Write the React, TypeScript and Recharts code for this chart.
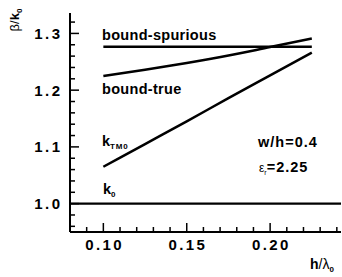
import React from 'react';
import { LineChart, Line, XAxis, YAxis } from 'recharts';

// values
const hOverLambda = [0.10, 0.125, 0.15, 0.175, 0.20, 0.225];
const boundTrue = [1.225, 1.236, 1.248, 1.261, 1.276, 1.291];
const kTM0 = [1.065, 1.105, 1.145, 1.186, 1.226, 1.266];
const spuriousX = [0.10, 0.225];
const boundSpurious = [1.2765, 1.2765];
const k0X = [0.08, 0.2425];
const k0 = [1.0, 1.0];

const xMajor = [0.10, 0.15, 0.20];
const xTicks = [0.09, 0.10, 0.11, 0.12, 0.13, 0.14, 0.15, 0.16, 0.17, 0.18, 0.19, 0.20, 0.21, 0.22, 0.23, 0.24];
const yMajor = [1.0, 1.1, 1.2, 1.3];
const yTicks = [0.96, 0.98, 1.0, 1.02, 1.04, 1.06, 1.08, 1.1, 1.12, 1.14, 1.16, 1.18, 1.2, 1.22, 1.24, 1.26, 1.28, 1.3, 1.32];

const xDomain = [0.08, 0.2425];
const yDomain = [0.95, 1.336];

const FONT = '"Liberation Sans", Arial, Helvetica, sans-serif';

const toRows = (xs: number[], ys: number[]) => xs.map((x, i) => ({ x, y: ys[i] }));

const trueRows = toRows(hOverLambda, boundTrue);
const tmRows = toRows(hOverLambda, kTM0);
const spuriousRows = toRows(spuriousX, boundSpurious);
const k0Rows = toRows(k0X, k0);

const isMajor = (v: number, majors: number[]) => majors.some((m) => Math.abs(m - v) < 1e-6);

const MAJOR = 9;
const MINOR = 5;

const BottomTick = (props: any) => {
  const { x, y, payload } = props;
  const major = isMajor(payload.value, xMajor);
  return (
    <g>
      <line x1={x} x2={x} y1={y} y2={y - (major ? MAJOR : MINOR)} stroke="#000" strokeWidth={1.5} />
      {major && (
        <text x={x} y={y + 18} dx={1.2} textAnchor="middle" fontFamily={FONT} fontWeight="bold" fontSize={15} letterSpacing={2.4} fill="#000">
          {payload.value.toFixed(2)}
        </text>
      )}
    </g>
  );
};

const TopTick = (props: any) => {
  const { x, y, payload } = props;
  const major = isMajor(payload.value, xMajor);
  return <line x1={x} x2={x} y1={y} y2={y + (major ? MAJOR : MINOR)} stroke="#000" strokeWidth={1.5} />;
};

const LeftTick = (props: any) => {
  const { x, y, payload } = props;
  const major = isMajor(payload.value, yMajor);
  return (
    <g>
      <line x1={x} x2={x + (major ? MAJOR : MINOR)} y1={y} y2={y} stroke="#000" strokeWidth={1.5} />
      {major && (
        <text x={x - 10} y={y + 5.5} dx={2.4} textAnchor="end" fontFamily={FONT} fontWeight="bold" fontSize={15} letterSpacing={2.4} fill="#000">
          {payload.value.toFixed(1)}
        </text>
      )}
    </g>
  );
};

const RightTick = (props: any) => {
  const { x, y, payload } = props;
  const major = isMajor(payload.value, yMajor);
  return <line x1={x} x2={x - (major ? MAJOR : MINOR)} y1={y} y2={y} stroke="#000" strokeWidth={1.5} />;
};

const axisLine = { stroke: '#000', strokeWidth: 2 };

const Annotations = () => (
  <svg width={342} height={277} style={{ position: 'absolute', left: 0, top: 0, pointerEvents: 'none' }}>
    <g fontFamily={FONT} fill="#000">
      {/* y axis title */}
      <text transform="translate(18.5,20) rotate(-90)" textAnchor="middle" fontSize={13}>
        <tspan>β/</tspan>
        <tspan fontWeight="bold">k</tspan>
        <tspan fontWeight="bold" fontSize={8} dy={3}>0</tspan>
      </text>
      {/* x axis title */}
      <text x={310} y={269} fontSize={14}>
        <tspan fontWeight="bold">h</tspan>
        <tspan>/λ</tspan>
        <tspan fontWeight="bold" fontSize={8} dy={3}>0</tspan>
      </text>

      <text x={102} y={40} fontSize={14.5} fontWeight="bold" letterSpacing={0.3}>bound-spurious</text>
      <text x={102} y={94} fontSize={14.5} fontWeight="bold" letterSpacing={0.3}>bound-true</text>

      <text x={102} y={146} fontSize={14.5} fontWeight="bold">
        k<tspan fontSize={8} dy={3} letterSpacing={0.8}>TM0</tspan>
      </text>
      <text x={103} y={194} fontSize={14.5} fontWeight="bold">
        k<tspan fontSize={8} dy={3}>0</tspan>
      </text>

      <text x={258} y={147} fontSize={14.5} fontWeight="bold" letterSpacing={1}>w/h=0.4</text>
      <text x={259} y={172} fontSize={14.5}>
        <tspan fontSize={12}>ε</tspan>
        <tspan fontSize={7} dy={3}>r</tspan>
        <tspan fontWeight="bold" dy={-3} letterSpacing={1}>=2.25</tspan>
      </text>
    </g>
  </svg>
);

export default function App() {
  return (
    <div style={{ position: 'absolute', left: 0, top: 0, width: 342, height: 277, background: '#fff' }}>
      <LineChart width={342} height={277} margin={{ top: 13, right: 1, bottom: 0, left: 0 }}>
        <XAxis
          xAxisId="b"
          type="number"
          dataKey="x"
          domain={xDomain}
          allowDataOverflow
          ticks={xTicks}
          interval={0}
          tick={<BottomTick />}
          tickLine={false}
          tickSize={0}
          tickMargin={0}
          axisLine={axisLine}
          height={45}
        />
        <XAxis
          xAxisId="t"
          orientation="top"
          type="number"
          dataKey="x"
          domain={xDomain}
          allowDataOverflow
          ticks={xTicks}
          interval={0}
          tick={<TopTick />}
          tickLine={false}
          tickSize={0}
          tickMargin={0}
          axisLine={axisLine}
          height={0}
        />
        <YAxis
          yAxisId="l"
          type="number"
          domain={yDomain}
          allowDataOverflow
          ticks={yTicks}
          interval={0}
          tick={<LeftTick />}
          tickLine={false}
          tickSize={0}
          tickMargin={0}
          axisLine={axisLine}
          width={70}
        />
        <YAxis
          yAxisId="r"
          orientation="right"
          type="number"
          domain={yDomain}
          allowDataOverflow
          ticks={yTicks}
          interval={0}
          tick={<RightTick />}
          tickLine={false}
          tickSize={0}
          tickMargin={0}
          axisLine={axisLine}
          width={0}
        />
        <Line xAxisId="t" yAxisId="r" data={k0Rows} dataKey="y" type="linear" stroke="#000" strokeWidth={2.2} dot={false} isAnimationActive={false} />
        <Line xAxisId="b" yAxisId="l" data={spuriousRows} dataKey="y" type="linear" stroke="#000" strokeWidth={2.5} dot={false} isAnimationActive={false} />
        <Line xAxisId="b" yAxisId="l" data={trueRows} dataKey="y" type="monotone" stroke="#000" strokeWidth={2.5} dot={false} isAnimationActive={false} />
        <Line xAxisId="b" yAxisId="l" data={tmRows} dataKey="y" type="monotone" stroke="#000" strokeWidth={2.5} dot={false} isAnimationActive={false} />
      </LineChart>
      <Annotations />
    </div>
  );
}
